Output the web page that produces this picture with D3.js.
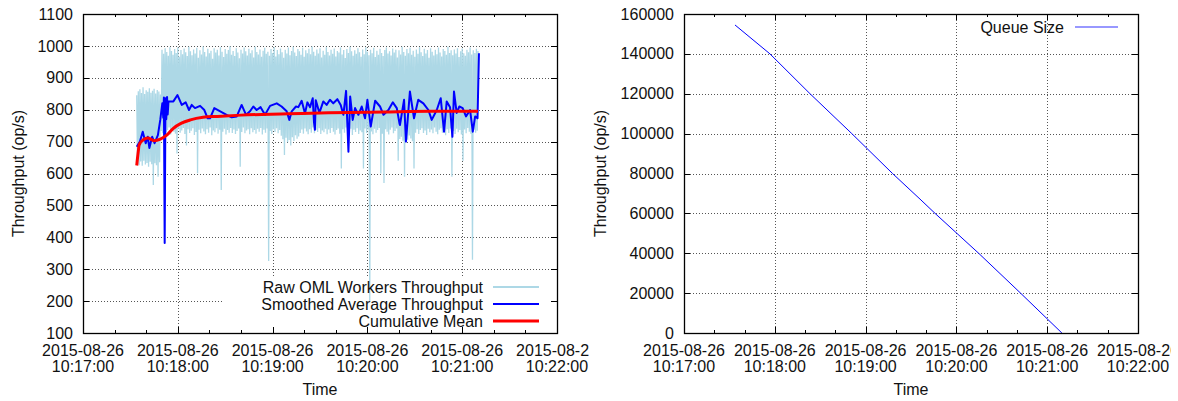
<!DOCTYPE html>
<html lang='en'>
<head>
<meta charset='UTF-8'>
<title>OML throughput and queue size</title>
<script src="https://d3js.org/d3.v7.min.js"></script>
<style>
    body { margin: 0; background: #fff; }
    #wrap { position: relative; width: 1178px; height: 401px; overflow: hidden; }
    svg { position: absolute; top: 0; font-family: 'Liberation Sans', Arial, sans-serif; }
</style>
</head>
<body>
<div id='wrap'>
    <svg id='left' width='589' height='401' style='left:0'></svg>
    <svg id='right' width='582' height='401' style='left:589px'></svg>
</div>
<script>
// seconds are counted from 2015-08-26 10:17:00
const base = new Date(2015, 7, 26, 10, 17, 0);
const at = s => new Date(base.getTime() + s * 1000);

// raw worker throughput, one sample every rawStep seconds starting at rawStart
const rawStart = 34;
const rawStep = 0.5;
const rawValues = [
    845, 630, 858, 626, 864, 638, 852, 624, 870, 640, 849, 628, 861, 633, 856, 621, 867, 637, 853, 629,
    859, 564, 866, 632, 851, 626, 862, 590, 857, 635, 848, 733, 988, 726, 975, 741, 993, 729, 981, 736,
    969, 744, 996, 722, 984, 738, 972, 731, 990, 725, 978, 663, 995, 740, 966, 728, 987, 735, 974, 743,
    992, 724, 980, 688, 968, 739, 997, 727, 983, 734, 971, 742, 989, 721, 976, 730, 994, 601, 963, 737,
    986, 726, 973, 741, 998, 732, 981, 723, 967, 739, 991, 728, 977, 744, 985, 720, 960, 735, 993, 729,
    979, 742, 988, 725, 970, 737, 996, 548, 982, 731, 965, 740, 990, 722, 975, 736, 987, 728, 999, 743,
    972, 727, 984, 738, 968, 724, 993, 733, 979, 741, 961, 621, 988, 730, 976, 744, 995, 726, 983, 735,
    970, 739, 991, 723, 977, 742, 986, 729, 964, 736, 997, 725, 981, 740, 973, 731, 989, 743, 966, 722,
    985, 737, 994, 728, 975, 741, 982, 326, 969, 733, 990, 724, 978, 739, 996, 730, 967, 742, 987, 726,
    974, 736, 992, 718, 980, 707, 963, 658, 988, 712, 976, 698, 995, 705, 971, 688, 984, 714, 997, 702,
    979, 720, 968, 709, 990, 716, 983, 727, 972, 738, 994, 725, 966, 741, 986, 732, 977, 723, 991, 739,
    974, 728, 998, 744, 982, 726, 969, 737, 989, 730, 976, 742, 993, 724, 964, 735, 985, 729, 972, 740,
    996, 723, 981, 738, 970, 727, 988, 743, 975, 731, 992, 722, 967, 736, 984, 741, 979, 725, 995, 616,
    973, 739, 987, 728, 962, 744, 990, 733, 978, 726, 997, 740, 983, 721, 969, 737, 986, 730, 975, 742,
    993, 724, 980, 735, 966, 729, 989, 616, 974, 741, 996, 727, 982, 738, 971, 198, 988, 732, 977, 723,
    994, 740, 965, 728, 985, 736, 972, 743, 991, 600, 978, 725, 968, 570, 987, 739, 995, 731, 976, 722,
    983, 737, 970, 744, 992, 726, 979, 733, 988, 741, 964, 640, 986, 708, 973, 715, 997, 703, 981, 590,
    969, 712, 990, 706, 977, 719, 994, 710, 972, 701, 985, 616, 966, 728, 989, 739, 975, 724, 996, 736,
    980, 742, 968, 727, 991, 735, 976, 721, 987, 740, 963, 729, 993, 738, 982, 726, 970, 744, 988, 731,
    974, 723, 995, 737, 979, 742, 967, 728, 990, 734, 984, 720, 972, 739, 997, 727, 978, 741, 986, 590,
    971, 733, 989, 724, 976, 740, 993, 729, 965, 736, 983, 722, 992, 640, 977, 738, 969, 726, 988, 743,
    980, 731, 995, 725, 973, 330, 986, 737, 978, 728, 991, 734, 984
];

// smoothed average throughput [second, op/s]
const smoothed = [
    [34, 684], [36, 700], [37.8, 731], [39.7, 695], [41, 715], [42, 680], [43.8, 715],
    [45.3, 695], [47.4, 720], [48.9, 768], [50.2, 820], [50.8, 775], [51.2, 838], [51.7, 382],
    [52.2, 836], [52.7, 770], [53.2, 840], [53.6, 785], [54.1, 826], [57.2, 826], [59.8, 846],
    [62.5, 815], [65, 823], [67.1, 799], [68.8, 815], [70.9, 805], [74.1, 812], [76.8, 799],
    [78.9, 773], [80.4, 773], [83.1, 805], [85.7, 798], [90.9, 784], [94.1, 776], [97.3, 779],
    [100.4, 815], [103.2, 784], [105.7, 795], [107.8, 810], [109.9, 799], [112.4, 808],
    [115.2, 784], [118.4, 812], [122.6, 820], [125.7, 810], [128.9, 795], [130.6, 768],
    [132.1, 795], [134.8, 810], [136.3, 808], [138.4, 828], [140.5, 788], [142, 823],
    [143.7, 808], [145.4, 836], [146.2, 760], [146.8, 737], [147.3, 830], [147.9, 820],
    [149.6, 790], [152.1, 826], [154.2, 815], [156.3, 831], [158.4, 820], [161, 833],
    [163.1, 815], [164.8, 784], [166.5, 859], [168, 668], [169.1, 841], [170.7, 768],
    [172.2, 805], [174.3, 784], [176.4, 810], [178.5, 773], [180, 831], [182.1, 747],
    [184.9, 828], [188, 810], [190.2, 784], [193.3, 799], [196.1, 823], [198.6, 805],
    [200.3, 757], [200.6, 752], [203.2, 831], [204.4, 700], [206.9, 857], [209.5, 773],
    [212.2, 831], [215.4, 820], [218.6, 799], [220.7, 768], [223.9, 799], [226.4, 836],
    [228.5, 731], [230.2, 826], [232.3, 808], [233.8, 715], [234.8, 857], [236.5, 790],
    [238.2, 810], [240.3, 805], [242.4, 779], [245, 799], [246.7, 731], [248.2, 779],
    [249.7, 773], [250.6, 977]
];

// cumulative mean [second, op/s]
const cumMean = [
    [34, 625], [35, 670], [35.5, 689], [38, 705], [41, 711], [45, 703], [49, 708],
    [53, 720], [57, 741], [62, 757], [68, 768], [76, 776], [85, 779], [100, 783],
    [130, 787], [150, 790], [190, 793], [220, 795], [250, 795]
];

// queue size [second, items]
const queue = [
    [33.7, 154500], [56.8, 140000], [83.3, 120000], [110.9, 100000], [137.8, 80000],
    [156.6, 66700], [165.9, 60000], [194.7, 40000], [222.4, 20000], [249.7, 0]
];

const legendLeft = ['Raw OML Workers Throughput', 'Smoothed Average Throughput', 'Cumulative Mean'];
const legendRight = ['Queue Size'];

const fmtDay = d3.timeFormat('%Y-%m-%d');
const fmtTime = d3.timeFormat('%H:%M:%S');

function panel(svg, box, yDomain, yStep) {
    const x = d3.scaleTime().domain([at(0), at(300)]).range([box.l, box.r]);
    const y = d3.scaleLinear().domain(yDomain).range([box.b, box.t]);
    const xTicks = x.ticks(d3.timeMinute.every(1));
    const xMinor = x.ticks(d3.timeSecond.every(20));
    const yTicks = d3.range(yDomain[0], yDomain[1] + 1, yStep);

    // grid
    const grid = svg.append('g')
        .attr('stroke', '#555').attr('stroke-width', 1).attr('stroke-dasharray', '1,2');
    grid.selectAll('.gx').data(xTicks.slice(1, -1)).enter().append('line')
        .attr('x1', d => Math.round(x(d)) + 0.5).attr('x2', d => Math.round(x(d)) + 0.5)
        .attr('y1', box.t).attr('y2', box.b);
    grid.selectAll('.gy').data(yTicks.slice(1, -1)).enter().append('line')
        .attr('x1', box.l).attr('x2', box.r)
        .attr('y1', d => Math.round(y(d)) + 0.5).attr('y2', d => Math.round(y(d)) + 0.5);

    return { x, y, xTicks, xMinor, yTicks };
}

function frame(svg, box, s, yTitleX) {
    const { x, y, xTicks, xMinor, yTicks } = s;
    const ax = svg.append('g').attr('stroke', '#000').attr('stroke-width', 1);
    xMinor.forEach(d => {
        const px = Math.round(x(d)) + 0.5;
        const len = xTicks.some(t => +t === +d) ? 6 : 3;
        ax.append('line').attr('x1', px).attr('x2', px).attr('y1', box.b).attr('y2', box.b - len);
        ax.append('line').attr('x1', px).attr('x2', px).attr('y1', box.t).attr('y2', box.t + len);
    });
    yTicks.forEach(d => {
        const py = Math.round(y(d)) + 0.5;
        ax.append('line').attr('x1', box.l).attr('x2', box.l + 6).attr('y1', py).attr('y2', py);
        ax.append('line').attr('x1', box.r).attr('x2', box.r - 6).attr('y1', py).attr('y2', py);
    });
    svg.append('rect')
        .attr('x', box.l + 0.5).attr('y', box.t + 0.5)
        .attr('width', box.r - box.l).attr('height', box.b - box.t)
        .attr('fill', 'none').attr('stroke', '#000').attr('stroke-width', 1.3);

    // tick labels
    svg.append('g').selectAll('text').data(yTicks).enter().append('text')
        .attr('x', box.l - 10).attr('y', d => y(d)).attr('dy', '0.35em')
        .attr('text-anchor', 'end').attr('font-size', 16).attr('fill', '#111')
        .text(d => d);
    const xl = svg.append('g').selectAll('text').data(xTicks).enter().append('text')
        .attr('text-anchor', 'middle').attr('font-size', 16).attr('fill', '#111');
    xl.append('tspan').attr('x', d => x(d)).attr('y', box.b + 23).text(d => fmtDay(d));
    xl.append('tspan').attr('x', d => x(d)).attr('y', box.b + 39).text(d => fmtTime(d));

    // axis titles
    svg.append('text')
        .attr('x', (box.l + box.r) / 2).attr('y', box.b + 62)
        .attr('text-anchor', 'middle').attr('font-size', 16).attr('fill', '#111')
        .text('Time');
    svg.append('text')
        .attr('transform', `translate(${yTitleX},${(box.t + box.b) / 2}) rotate(-90)`)
        .attr('dy', '0.35em')
        .attr('text-anchor', 'middle').attr('font-size', 16).attr('fill', '#111')
        .text('Throughput (op/s)');
}

// ---------- left panel ----------
const svgL = d3.select('#left');
const boxL = { l: 83, r: 557, t: 14, b: 333 };
const sL = panel(svgL, boxL, [100, 1100], 100);

// opaque key box
svgL.append('rect').attr('x', 222).attr('y', 276).attr('width', 335).attr('height', 57).attr('fill', '#fff');

const lineL = d3.line().x(d => sL.x(at(d[0]))).y(d => sL.y(d[1]));
const rawPts = rawValues.map((v, i) => [rawStart + i * rawStep, v]);

svgL.append('path').datum(rawPts).attr('d', lineL)
    .attr('fill', 'none').attr('stroke', '#add8e6').attr('stroke-width', 1.3).attr('stroke-linejoin', 'bevel');
svgL.append('path').datum(smoothed).attr('d', lineL)
    .attr('fill', 'none').attr('stroke', '#0000ff').attr('stroke-width', 2).attr('stroke-linejoin', 'round');
svgL.append('path').datum(cumMean).attr('d', lineL.curve(d3.curveMonotoneX))
    .attr('fill', 'none').attr('stroke', '#ff0000').attr('stroke-width', 3).attr('stroke-linejoin', 'round');

frame(svgL, boxL, sL, 18);

const keyColors = ['#add8e6', '#0000ff', '#ff0000'];
const keyWidths = [1.8, 2, 3];
legendLeft.forEach((name, i) => {
    const ky = 287 + i * 17;
    svgL.append('text').attr('x', 483).attr('y', ky).attr('dy', '0.35em')
        .attr('text-anchor', 'end').attr('font-size', 16).attr('fill', '#111').text(name);
    svgL.append('line').attr('x1', 493).attr('x2', 539).attr('y1', ky).attr('y2', ky)
        .attr('stroke', keyColors[i]).attr('stroke-width', keyWidths[i]);
});

// ---------- right panel ----------
const svgR = d3.select('#right');
const boxR = { l: 95, r: 549, t: 14, b: 333 };
const sR = panel(svgR, boxR, [0, 160000], 20000);

const lineR = d3.line().x(d => sR.x(at(d[0]))).y(d => sR.y(d[1]));
svgR.append('path').datum(queue).attr('d', lineR)
    .attr('fill', 'none').attr('stroke', '#0000ff').attr('stroke-width', 1);

frame(svgR, boxR, sR, 11);

legendRight.forEach((name, i) => {
    const ky = 27 + i * 17;
    svgR.append('text').attr('x', 475).attr('y', ky).attr('dy', '0.35em')
        .attr('text-anchor', 'end').attr('font-size', 16).attr('fill', '#111').text(name);
    svgR.append('line').attr('x1', 486).attr('x2', 529).attr('y1', ky).attr('y2', ky)
        .attr('stroke', '#3333ff').attr('stroke-width', 1.2);
});
</script>
</body>
</html>
